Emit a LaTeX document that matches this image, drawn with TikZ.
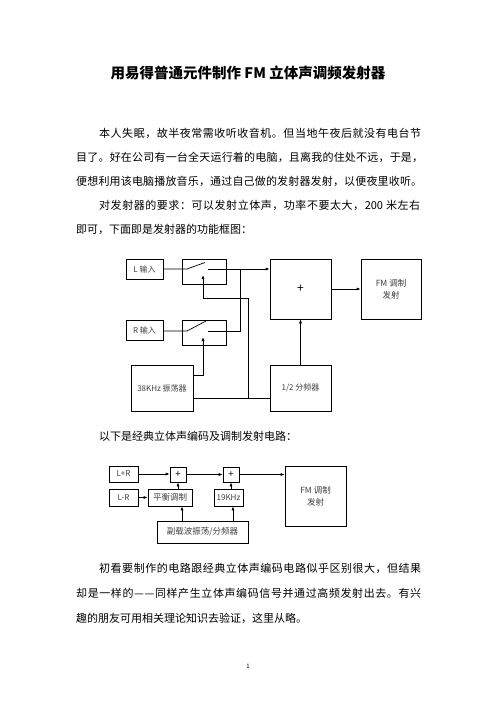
\documentclass[tikz,border=0pt]{standalone}
\usepackage{fontspec}
\setmainfont{Noto Sans CJK SC}
\usetikzlibrary{arrows.meta}
\def\jlEnd{}
\def\jlA#1{#1\jlB}
\def\jlB#1{\ifx\jlEnd#1\else\hfil#1\expandafter\jlB\fi}
\newcommand\jline[2]{\hbox to #1{\jlA#2\jlEnd}}
\begin{document}
\begin{tikzpicture}[x=1pt,y=-1pt,
  body/.style={anchor=west,inner sep=0pt,font=\fontsize{11}{13}\selectfont,text=black},
  blk/.style={draw,line width=0.7pt,inner sep=0pt,font=\fontsize{8}{11}\selectfont,text=black!75,align=center},
  conn/.style={line width=0.7pt},
  arr/.style={conn,-{Latex[length=4pt,width=3pt]}}]
\fill[white] (0,0) rectangle (496,702);
\useasboundingbox (0,0) rectangle (496,702);

\node[font=\bfseries\fontsize{14.5}{17}\selectfont] (title) at (248,73) {用易得普通元件制作 FM 立体声调频发射器};

\node[body] (l1) at (99,133) {\jline{322pt}{本人失眠，故半夜常需收听收音机。但当地午夜后就没有电台节}};
\node[body] (l2) at (76,157) {\jline{347pt}{目了。好在公司有一台全天运行着的电脑，且离我的住处不远，于是，}};
\node[body] (l3) at (76,181) {\jline{346pt}{便想利用该电脑播放音乐，通过自己做的发射器发射，以便夜里收听。}};
\node[body] (l4) at (99,205) {\jline{321pt}{对发射器的要求：可以发射立体声，功率不要太大，{200 }米左右}};
\node[body] (l5) at (76,229) {即可，下面即是发射器的功能框图：};

% diagram 1
\node[blk,minimum width=37pt,minimum height=20pt] (Lin) at (144.5,269) {L 输入};
\node[blk,minimum width=44pt,minimum height=25pt] (sw1) at (204,271.5) {};
\node[blk,minimum width=61pt,minimum height=60pt,font=\fontsize{12}{14}\selectfont,text=black] (plus) at (300.5,289) {+};
\node[blk,minimum width=60pt,minimum height=60pt,font=\fontsize{8.5}{12}\selectfont] (fm1) at (391,289) {FM 调制\\发射};
\node[blk,minimum width=37pt,minimum height=20pt] (Rin) at (144.5,330) {R 输入};
\node[blk,minimum width=44pt,minimum height=25pt] (sw2) at (204,332.5) {};
\node[blk,minimum width=62pt,minimum height=46pt] (osc) at (162,388) {38KHz 振荡器};
\node[blk,minimum width=61pt,minimum height=46pt] (div) at (300.5,388) {1/2 分频器};

\coordinate (s1a) at (187,269); \coordinate (s1b) at (205,262.5); \coordinate (s1c) at (208,269);
\draw[conn] (Lin.east |- s1a) -- (s1a) -- (s1b);
\draw[arr] (s1c) -- (s1c -| plus.west);
\coordinate (s2a) at (187,331); \coordinate (s2b) at (206,321); \coordinate (s2c) at (208,331);
\draw[conn] (Rin.east |- s2a) -- (s2a) -- (s2b);
\coordinate (j2) at (240,331);
\draw[conn] (s2c) -- (j2) -- (j2 |- s1c);
\coordinate (t1) at (203,275); \coordinate (k1) at (203,298); \coordinate (k2) at (248,298); \coordinate (k3) at (248,398);
\draw[arr] (k3) -- (k2) -- (k1) -- (t1);
\draw[conn] (osc.east |- k3) -- (div.west |- k3);
\coordinate (t2) at (203,337); \coordinate (m1) at (203,375);
\draw[arr] (osc.east |- m1) -- (m1) -- (t2);
\draw[arr] (div.north) -- (plus.south);
\draw[arr] (plus.east) -- (fm1.west);

\node[body] (p2) at (99,436) {以下是经典立体声编码及调制发射电路：};

% diagram 2
\node[blk,minimum width=29pt,minimum height=16pt] (LpR) at (123.5,474) {L+R};
\node[blk,minimum width=29pt,minimum height=17pt] (LmR) at (123.5,497.5) {L-R};
\node[blk,minimum width=16pt,minimum height=15pt,font=\fontsize{9.5}{11}\selectfont,text=black] (a1) at (178,474.5) {+};
\node[blk,minimum width=44pt,minimum height=17pt,font=\fontsize{8.5}{11}\selectfont] (bal) at (170,497.5) {平衡调制};
\node[blk,minimum width=16pt,minimum height=15pt,font=\fontsize{9.5}{11}\selectfont,text=black] (a2) at (231,474.5) {+};
\node[blk,minimum width=29pt,minimum height=17pt] (k19) at (228.5,497.5) {19KHz};
\node[blk,minimum width=91pt,minimum height=22pt,font=\fontsize{8.5}{11}\selectfont] (sub) at (202.5,532) {副载波振荡/分频器};
\node[blk,minimum width=61pt,minimum height=60pt,font=\fontsize{8.5}{12}\selectfont] (fm2) at (315.5,496) {FM 调制\\发射};

\draw[arr] (LpR.east) -- (LpR.east -| a1.west);
\draw[arr] (a1.east) -- (a2.west);
\draw[arr] (a2.east) -- (a2.east -| fm2.west);
\draw[arr] (LmR.east) -- (bal.west);
\draw[arr] (a1.south |- bal.north) -- (a1.south);
\draw[arr] (a2.south |- k19.north) -- (a2.south);
\coordinate (u1) at (182,521); \coordinate (u2) at (233,521);
\draw[arr] (u1) -- (u1 |- bal.south);
\draw[arr] (u2) -- (u2 |- k19.south);

\node[body] (q1) at (99,568) {\jline{322pt}{初看要制作的电路跟经典立体声编码电路似乎区别很大，但结果}};
\node[body] (q2) at (76,593) {\jline{345pt}{却是一样的——同样产生立体声编码信号并通过高频发射出去。有兴}};
\node[body] (q3) at (76,618) {趣的朋友可用相关理论知识去验证，这里从略。};

\node[font=\fontsize{6}{7}\selectfont] (pg) at (248,666) {1};
\end{tikzpicture}
\end{document}
